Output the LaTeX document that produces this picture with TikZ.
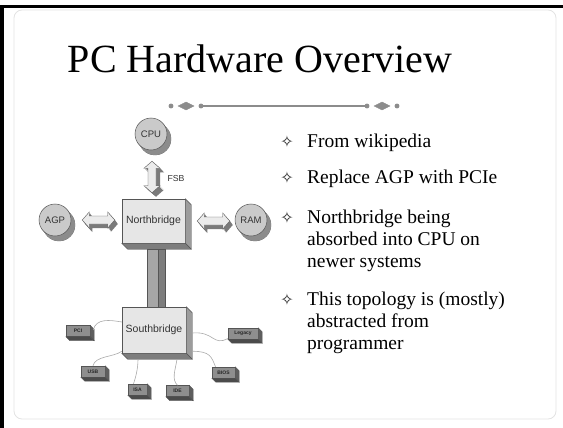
\documentclass[tikz,border=0pt]{standalone}
\usepackage{fontspec}
\setmainfont{Liberation Serif}
\setsansfont{Liberation Sans}
\newfontfamily\symbolfont{DejaVu Sans}
\usetikzlibrary{calc,positioning}
\definecolor{chipface}{HTML}{E6E6E6}
\definecolor{chipside}{HTML}{9C9C9C}
\definecolor{portface}{HTML}{8E8E8E}
\definecolor{portside}{HTML}{5E5E5E}
\definecolor{deviceface}{HTML}{CACACA}
\definecolor{deviceshadow}{HTML}{8C8C8C}
\definecolor{edgegray}{HTML}{555555}
\definecolor{textgray}{HTML}{333333}
\definecolor{wiregray}{HTML}{AAAAAA}
\definecolor{arrowlight}{HTML}{EBEBEB}
\definecolor{arrowdark}{HTML}{7A7A7A}
\definecolor{ornamentgray}{HTML}{8C8C8C}
\newcommand{\chipDepth}{6}
\newcommand{\portDepth}{4}
\newcommand{\headLen}{7pt}
\newcommand{\headHalf}{8pt}
\newcommand{\shaftHalf}{4pt}
% block arrow shapes, read \x1 \x2 \y1 \y2 of a let
\newcommand{\hArrowShape}[2]{(\x1+#1,\y1-#2) -- (\x1+\headLen+#1,\y1+\headHalf-#2) -- (\x1+\headLen+#1,\y1+\shaftHalf-#2) -- (\x2-\headLen+#1,\y1+\shaftHalf-#2) -- (\x2-\headLen+#1,\y1+\headHalf-#2) -- (\x2+#1,\y1-#2) -- (\x2-\headLen+#1,\y1-\headHalf-#2) -- (\x2-\headLen+#1,\y1-\shaftHalf-#2) -- (\x1+\headLen+#1,\y1-\shaftHalf-#2) -- (\x1+\headLen+#1,\y1-\headHalf-#2) -- cycle}
\newcommand{\vArrowShape}[2]{(\x1+#1,\y1-#2) -- (\x1+\headHalf+#1,\y1-\headLen-#2) -- (\x1+\shaftHalf+#1,\y1-\headLen-#2) -- (\x1+\shaftHalf+#1,\y2+\headLen-#2) -- (\x1+\headHalf+#1,\y2+\headLen-#2) -- (\x1+#1,\y2-#2) -- (\x1-\headHalf+#1,\y2+\headLen-#2) -- (\x1-\shaftHalf+#1,\y2+\headLen-#2) -- (\x1-\shaftHalf+#1,\y1-\headLen-#2) -- (\x1-\headHalf+#1,\y1-\headLen-#2) -- cycle}
\newcommand{\hLink}[2]{%
  \foreach \d in {4,3,2,1}{\fill[arrowside] let \p1=(#1), \p2=(#2) in \hArrowShape{\d*0.75pt}{\d*1pt};}
  \filldraw[arrowface] let \p1=(#1), \p2=(#2) in \hArrowShape{0pt}{0pt};}
\newcommand{\vLink}[2]{%
  \foreach \d in {4,3,2,1}{\fill[arrowside] let \p1=(#1), \p2=(#2) in \vArrowShape{\d*1pt}{\d*1pt};}
  \filldraw[arrowface] let \p1=(#1), \p2=(#2) in \vArrowShape{0pt}{0pt};}
% right and bottom faces of a block
\newcommand{\blockSides}[3]{%
  \filldraw[fill=#3, draw=edgegray, line width=0.4pt] (#1.north east) -- ++(#2,#2) -- ($(#1.south east)+(#2,#2)$) -- (#1.south east) -- cycle;
  \filldraw[fill=#3!80!black, draw=edgegray, line width=0.4pt] (#1.south west) -- ++(#2,#2) -- ($(#1.south east)+(#2,#2)$) -- (#1.south east) -- cycle;}
\newcommand{\deviceNode}[3]{%
  \coordinate (#1pos) at #2;
  \filldraw[fill=deviceshadow, draw=edgegray, line width=0.4pt] ($(#1pos)+(4,5)$) circle (16);
  \foreach \d in {1,2,3,4}{\fill[deviceshadow] ($(#1pos)+(\d,1.25*\d)$) circle (16);}
  \node[device] (#1) at (#1pos) {#3};}

\begin{document}
\begin{tikzpicture}[x=1pt, y=-1pt,
  chip/.style={draw=edgegray, line width=0.5pt, fill=chipface, minimum width=63pt, minimum height=44pt, inner sep=0pt, font=\sffamily\fontsize{10.5}{12}\selectfont, text=textgray},
  port/.style={draw=edgegray, line width=0.4pt, fill=portface, minimum height=11pt, inner sep=0pt, font=\sffamily\bfseries\fontsize{5}{6}\selectfont, text=black!85},
  device/.style={circle, draw=edgegray, line width=0.5pt, fill=deviceface, minimum size=32pt, inner sep=0pt, font=\sffamily\fontsize{9.5}{11}\selectfont, text=textgray},
  wire/.style={draw=wiregray, line width=0.6pt},
  arrowface/.style={fill=arrowlight, draw=edgegray, line width=0.4pt},
  arrowside/.style={fill=arrowdark},
  bullet text/.style={anchor=base west, align=left, inner sep=0pt, font=\fontsize{19.5}{22}\selectfont},
  bullet mark/.style={inner sep=0pt, font=\symbolfont\fontsize{16}{16}\selectfont, text=black!85},
  ornament/.style={fill=ornamentgray, draw=ornamentgray}]
\useasboundingbox (0,0) rectangle (563,428);
\fill (0,5) rectangle (4,428);
\fill (0,5) rectangle (563,8);
\draw[gray!22, line width=0.8pt, rounded corners=8] (14,10) rectangle (556,419);

\node[anchor=base, font=\fontsize{40}{44}\selectfont] (title) at (260,73) {PC Hardware Overview};

% divider
\coordinate (divL) at (201,106);
\coordinate (divR) at (367,106);
\draw[ornamentgray, line width=1.2pt] (divL) -- (divR);
\fill[ornament] (171,106) circle (2.2) (divL) circle (2.2) (divR) circle (2.2) (397,106) circle (2.2);
\fill[ornament] (178,106) -- (186,102) -- (194,106) -- (186,110) -- cycle;
\fill[ornament] (374,106) -- (382,102) -- (390,106) -- (382,110) -- cycle;

% chips
\node[chip] (nb) at (153.5,221) {Northbridge};
\blockSides{nb}{\chipDepth}{chipside}
\node[chip, minimum width=64pt, minimum height=46pt] (sb) at (154,330) {Southbridge};
\blockSides{sb}{\chipDepth}{chipside}
\filldraw[fill=chipside!90, draw=edgegray, line width=0.4pt] ($(nb.south)+(-6.5,6)$) rectangle ($(nb.south |- sb.north)+(4.5,0)$);
\filldraw[fill=chipside!80!black, draw=edgegray, line width=0.4pt] ($(nb.south)+(4.5,6)$) rectangle ($(nb.south |- sb.north)+(11.5,0)$);

% devices
\deviceNode{cpu}{(151,134)}{CPU}
\deviceNode{agp}{(55,220)}{AGP}
\deviceNode{ram}{(251,220)}{RAM}

% buses
\vLink{$(cpu.south)+(1,11)$}{$(nb.north)+(-1.5,-6)$}
\hLink{$(agp.east)+(11,0)$}{$(nb.west)+(-7,0)$}
\hLink{$(nb.east)+(12,0)$}{$(ram.west)+(-5,0)$}
\node[font=\sffamily\fontsize{8.7}{10}\selectfont, text=textgray] (fsb) at (176,179) {FSB};

% ports
\node[port, minimum width=24pt] (pci) at (78,331) {PCI};
\node[port, minimum width=30pt] (legacy) at (243,333.5) {Legacy};
\node[port, minimum width=24pt] (usb) at (93,371.5) {USB};
\node[port, minimum width=19pt] (isa) at (137.5,389.5) {ISA};
\node[port, minimum width=23pt] (ide) at (177.5,391) {IDE};
\node[port, minimum width=23pt] (bios) at (223.5,372.5) {BIOS};
\blockSides{pci}{\portDepth}{portside}
\blockSides{legacy}{\portDepth}{portside}
\blockSides{usb}{\portDepth}{portside}
\blockSides{isa}{\portDepth}{portside}
\blockSides{ide}{\portDepth}{portside}
\blockSides{bios}{\portDepth}{portside}

% wires
\draw[wire] ($(pci.east)+(3,-1)$) .. controls +(3,-12) and +(-12,-2) .. ($(sb.west)+(0,-8)$);
\draw[wire] ($(sb.east)+(6,3)$) .. controls +(22,-2) and +(-15,8) .. ($(legacy.west)+(0,5)$);
\draw[wire] ($(sb.south east)+(6,-2)$) .. controls +(18,0) and +(-4,-10) .. ($(bios.north)+(-8,0)$);
\draw[wire] ($(sb.south west)+(0,-2)$) .. controls +(-8,6) and +(2,-10) .. (usb.north);
\draw[wire] ($(sb.south)+(-16,6)$) .. controls +(0,10) and +(2,-6) .. ($(isa.north)+(-4,0)$);
\draw[wire] ($(sb.south)+(23,6)$) .. controls +(-2,12) and +(-6,-6) .. (ide.north);

% bullets (multi-line texts sit on their last baseline)
\node[bullet mark] (m1) at (287,141.5) {✧};
\node[bullet text] (t1) at (307,147) {From wikipedia};
\node[bullet mark] (m2) at (287,177.5) {✧};
\node[bullet text] (t2) at (307,183) {Replace AGP with PCIe};
\node[bullet mark] (m3) at (287,217.5) {✧};
\node[bullet text] (t3) at (307,267) {Northbridge being\\absorbed into CPU on\\newer systems};
\node[bullet mark] (m4) at (287,299.5) {✧};
\node[bullet text] (t4) at (307,349) {This topology is (mostly)\\abstracted from\\programmer};
\end{tikzpicture}
\end{document}
